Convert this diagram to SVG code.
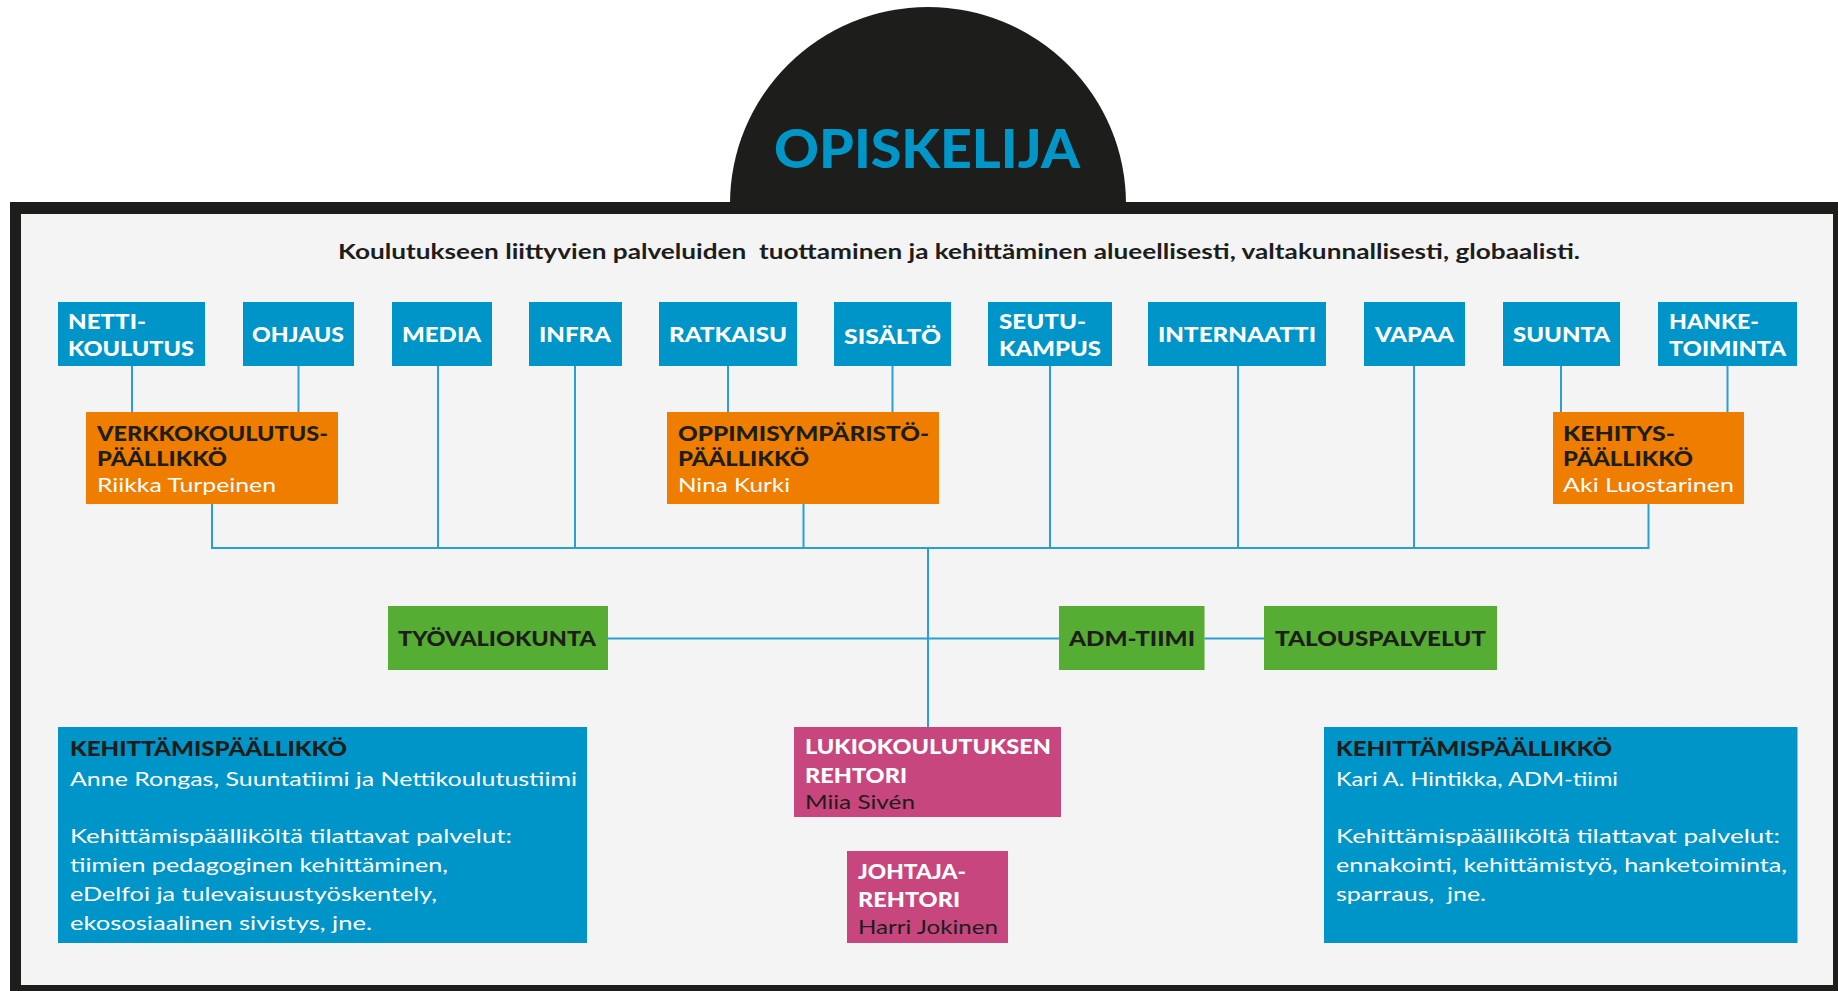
<svg xmlns="http://www.w3.org/2000/svg" width="1838" height="991" viewBox="0 0 1838 991">
<style>
.blue{fill:#0095c8}
.orange{fill:#ef7d00}
.green{fill:#55ae33}
.pink{fill:#c7467d}
.h{font-family:Lato,"Open Sans","DejaVu Sans",sans-serif;font-weight:900;font-size:21px}
.w{fill:#ffffff}
.d{fill:#1d1d1b}
.r{font-family:Lato,"Open Sans","DejaVu Sans",sans-serif;font-weight:400;font-size:20px}
.conn{stroke:#2a9fd4;stroke-width:2;fill:none}
</style>
<rect x="0" y="0" width="1838" height="991" fill="#ffffff"/>
<g id="frame">
<path d="M730,204 A198,197 0 0 1 1126,204 Z" fill="#1d1d1b"/>
<rect x="10" y="202" width="1828" height="789" fill="#1d1d1b"/>
<rect x="21" y="214" width="1812" height="771" fill="#f4f4f4"/>
</g>
<g id="title">
<text x="927" y="168" text-anchor="middle" font-family="Lato,'Open Sans',sans-serif" font-weight="900" font-size="54" fill="#0096c8" textLength="306" lengthAdjust="spacingAndGlyphs">OPISKELIJA</text>
<text x="338" y="259" font-family="Lato,'Open Sans',sans-serif" font-weight="700" font-size="20" fill="#1d1d1b" textLength="1242" lengthAdjust="spacingAndGlyphs" xml:space="preserve">Koulutukseen liittyvien palveluiden  tuottaminen ja kehittäminen alueellisesti, valtakunnallisesti, globaalisti.</text>
</g>
<g id="connectors">
<path class="conn" d="M132,366V412 M298.5,366V412 M438,366V548 M575,366V548 M728,366V412 M892.5,366V412 M1050,366V548 M1238,366V548 M1414,366V548 M1561,366V412 M1727.5,366V412 M212,504V548 M803.5,504V548 M1648.5,504V548 M211,548H1649.5 M928,548V727 M608,638.5H1059 M1204.5,638.5H1264"/>
</g>
<g id="netti"><rect class="blue" x="58" y="302" width="147" height="64"/><text class="h w" x="68" y="329" textLength="78" lengthAdjust="spacingAndGlyphs">NETTI-</text><text class="h w" x="68" y="356" textLength="126" lengthAdjust="spacingAndGlyphs">KOULUTUS</text></g>
<g id="ohjaus"><rect class="blue" x="243" y="302" width="111" height="64"/><text class="h w" x="252" y="342" textLength="92" lengthAdjust="spacingAndGlyphs">OHJAUS</text></g>
<g id="media"><rect class="blue" x="392" y="302" width="100" height="64"/><text class="h w" x="402" y="342" textLength="79" lengthAdjust="spacingAndGlyphs">MEDIA</text></g>
<g id="infra"><rect class="blue" x="529" y="302" width="93" height="64"/><text class="h w" x="539" y="342" textLength="72" lengthAdjust="spacingAndGlyphs">INFRA</text></g>
<g id="ratkaisu"><rect class="blue" x="659" y="302" width="138" height="64"/><text class="h w" x="669" y="342" textLength="118" lengthAdjust="spacingAndGlyphs">RATKAISU</text></g>
<g id="sisalto"><rect class="blue" x="834" y="302" width="117" height="64"/><text class="h w" x="844" y="344" textLength="97" lengthAdjust="spacingAndGlyphs">SISÄLTÖ</text></g>
<g id="seutukampus"><rect class="blue" x="988" y="302" width="124" height="64"/><text class="h w" x="999" y="329" textLength="87" lengthAdjust="spacingAndGlyphs">SEUTU-</text><text class="h w" x="999" y="356" textLength="102" lengthAdjust="spacingAndGlyphs">KAMPUS</text></g>
<g id="internaatti"><rect class="blue" x="1148" y="302" width="178" height="64"/><text class="h w" x="1158" y="342" textLength="158" lengthAdjust="spacingAndGlyphs">INTERNAATTI</text></g>
<g id="vapaa"><rect class="blue" x="1364" y="302" width="101" height="64"/><text class="h w" x="1375" y="342" textLength="79" lengthAdjust="spacingAndGlyphs">VAPAA</text></g>
<g id="suunta"><rect class="blue" x="1503" y="302" width="117" height="64"/><text class="h w" x="1513" y="342" textLength="97" lengthAdjust="spacingAndGlyphs">SUUNTA</text></g>
<g id="hanketoiminta"><rect class="blue" x="1658" y="302" width="139" height="64"/><text class="h w" x="1669" y="329" textLength="90" lengthAdjust="spacingAndGlyphs">HANKE-</text><text class="h w" x="1669" y="356" textLength="117" lengthAdjust="spacingAndGlyphs">TOIMINTA</text></g>
<g id="verkkokoulutuspaallikko"><rect class="orange" x="86" y="412" width="252" height="92"/><text class="h d" x="97" y="441" textLength="231" lengthAdjust="spacingAndGlyphs">VERKKOKOULUTUS-</text><text class="h d" x="97" y="466" textLength="130" lengthAdjust="spacingAndGlyphs">PÄÄLLIKKÖ</text><text class="r w" x="97" y="492" textLength="179" lengthAdjust="spacingAndGlyphs">Riikka Turpeinen</text></g>
<g id="oppimisymparistopaallikko"><rect class="orange" x="667" y="412" width="272" height="92"/><text class="h d" x="678" y="441" textLength="251" lengthAdjust="spacingAndGlyphs">OPPIMISYMPÄRISTÖ-</text><text class="h d" x="678" y="466" textLength="131" lengthAdjust="spacingAndGlyphs">PÄÄLLIKKÖ</text><text class="r w" x="678" y="492" textLength="112" lengthAdjust="spacingAndGlyphs">Nina Kurki</text></g>
<g id="kehityspaallikko"><rect class="orange" x="1553" y="412" width="191" height="92"/><text class="h d" x="1563" y="441" textLength="112" lengthAdjust="spacingAndGlyphs">KEHITYS-</text><text class="h d" x="1563" y="466" textLength="130" lengthAdjust="spacingAndGlyphs">PÄÄLLIKKÖ</text><text class="r w" x="1563" y="492" textLength="171" lengthAdjust="spacingAndGlyphs">Aki Luostarinen</text></g>
<g id="tyovaliokunta"><rect class="green" x="388" y="606" width="220" height="64"/><text class="h d" x="398" y="646" textLength="198" lengthAdjust="spacingAndGlyphs">TYÖVALIOKUNTA</text></g>
<g id="admtiimi"><rect class="green" x="1059" y="606" width="145.5" height="64"/><text class="h d" x="1069" y="646" textLength="126" lengthAdjust="spacingAndGlyphs">ADM-TIIMI</text></g>
<g id="talouspalvelut"><rect class="green" x="1264" y="606" width="233" height="64"/><text class="h d" x="1275" y="646" textLength="211" lengthAdjust="spacingAndGlyphs">TALOUSPALVELUT</text></g>
<g id="lukiorehtori"><rect class="pink" x="794" y="727" width="267" height="90"/><text class="h w" x="805" y="754" textLength="246" lengthAdjust="spacingAndGlyphs">LUKIOKOULUTUKSEN</text><text class="h w" x="805" y="783" textLength="102" lengthAdjust="spacingAndGlyphs">REHTORI</text><text class="r d" x="805" y="809" textLength="110" lengthAdjust="spacingAndGlyphs">Miia Sivén</text></g>
<g id="johtajarehtori"><rect class="pink" x="847" y="851" width="161" height="92"/><text class="h w" x="858" y="879" textLength="108" lengthAdjust="spacingAndGlyphs">JOHTAJA-</text><text class="h w" x="858" y="907" textLength="102" lengthAdjust="spacingAndGlyphs">REHTORI</text><text class="r d" x="858" y="934" textLength="140" lengthAdjust="spacingAndGlyphs">Harri Jokinen</text></g>
<g id="kehittamispaallikko-left"><rect class="blue" x="58" y="727" width="529" height="216"/><text class="h d" x="70" y="756" textLength="277" lengthAdjust="spacingAndGlyphs">KEHITTÄMISPÄÄLLIKKÖ</text><text class="r w" x="70" y="786" textLength="507" lengthAdjust="spacingAndGlyphs">Anne Rongas, Suuntatiimi ja Nettikoulutustiimi</text><text class="r w" x="70" y="843" textLength="442" lengthAdjust="spacingAndGlyphs">Kehittämispäälliköltä tilattavat palvelut:</text><text class="r w" x="70" y="872" textLength="378" lengthAdjust="spacingAndGlyphs">tiimien pedagoginen kehittäminen,</text><text class="r w" x="70" y="901" textLength="367" lengthAdjust="spacingAndGlyphs">eDelfoi ja tulevaisuustyöskentely,</text><text class="r w" x="70" y="930" textLength="302" lengthAdjust="spacingAndGlyphs">ekososiaalinen sivistys, jne.</text></g>
<g id="kehittamispaallikko-right"><rect class="blue" x="1324" y="727" width="473.5" height="216"/><text class="h d" x="1336" y="756" textLength="276" lengthAdjust="spacingAndGlyphs">KEHITTÄMISPÄÄLLIKKÖ</text><text class="r w" x="1336" y="786" textLength="282" lengthAdjust="spacingAndGlyphs">Kari A. Hintikka, ADM-tiimi</text><text class="r w" x="1336" y="843" textLength="444" lengthAdjust="spacingAndGlyphs">Kehittämispäälliköltä tilattavat palvelut:</text><text class="r w" x="1336" y="872" textLength="451" lengthAdjust="spacingAndGlyphs">ennakointi, kehittämistyö, hanketoiminta,</text><text class="r w" x="1336" y="901" textLength="150" lengthAdjust="spacingAndGlyphs" xml:space="preserve">sparraus,  jne.</text></g>
</svg>
